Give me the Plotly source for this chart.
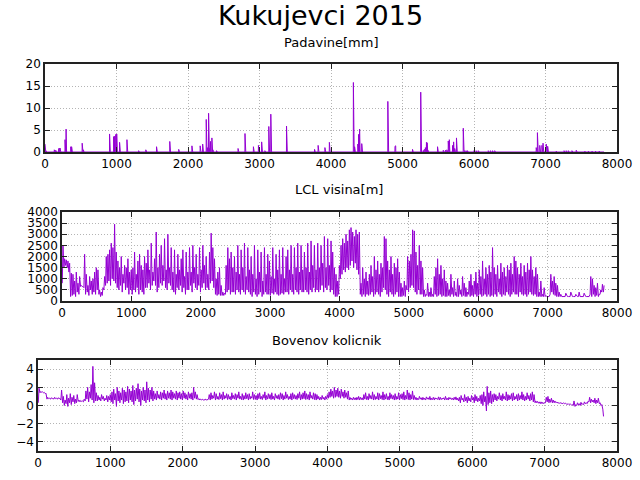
import numpy as np
import plotly.graph_objects as go

# ---------------- data ----------------
N_HOURS = 7820

# precipitation events: hour index and amount [mm]
rain_hour = [0, 2, 5, 12, 130, 140, 150, 190, 200, 210, 280, 295, 300, 360, 372,
             520, 530, 536, 903, 908, 960, 975, 990, 1003, 1006, 1043, 1146, 1310,
             1410, 1560, 1745, 1750, 1870, 2055, 2065, 2170, 2205, 2215, 2255, 2260,
             2270, 2288, 2293, 2300, 2315, 2334, 2340, 2348, 2400, 2700, 2797, 2915,
             2985, 2990, 3030, 3040, 3075, 3130, 3140, 3158, 3162, 3378, 3382, 3770,
             3820, 3915, 3977, 3982, 4313, 4330, 4340, 4375, 4385, 4400, 4430, 4440,
             4795, 4800, 4895, 4905, 5140, 5255, 5290, 5300, 5310, 5320, 5335, 5345,
             5355, 5490, 5500, 5570, 5600, 5620, 5640, 5655, 5660, 5700, 5715, 5730,
             5755, 5765, 5850, 5855, 5870, 5890, 5910, 6000, 6030, 6060, 6200, 6230,
             6260, 6290, 6870, 6887, 6892, 6920, 6950, 6965, 6975, 7010, 7030, 7150,
             7160, 7260, 7290, 7320, 7370, 7430, 7440, 7550, 7600, 7650, 7700, 7750]
rain_mm = [1.8, 0.6, 0.4, 0.3, 0.5, 0.5, 0.4, 0.7, 0.9, 0.9, 2.8, 5.2, 1.0, 1.2, 1.2,
           2.0, 2.0, 0.5, 4.1, 1.5, 3.5, 3.6, 4.0, 4.1, 1.0, 2.2, 2.8, 0.3,
           0.5, 1.2, 2.4, 1.5, 0.6, 1.4, 1.4, 1.4, 1.8, 1.5, 7.4, 4.0,
           1.0, 8.8, 2.5, 0.8, 2.4, 3.2, 1.7, 0.5, 0.3, 0.8, 4.2, 1.2,
           1.5, 0.4, 2.3, 0.5, 0.3, 5.8, 5.8, 8.6, 3.0, 5.9, 5.7, 0.6,
           1.5, 1.0, 2.2, 1.0, 15.8, 1.2, 1.2, 1.8, 4.0, 5.2, 1.9, 1.8,
           11.5, 4.2, 1.3, 1.4, 0.6, 13.6, 0.3, 0.5, 0.6, 1.0, 2.2, 2.1,
           0.4, 1.2, 0.8, 0.4, 0.4, 0.5, 2.5, 2.8, 0.8, 1.5, 2.3, 0.8,
           3.2, 2.5, 5.4, 2.0, 0.3, 0.3, 0.3, 0.3, 0.3, 0.3, 0.3, 0.3,
           0.3, 0.3, 1.0, 4.4, 2.0, 1.5, 1.5, 2.0, 1.8, 1.8, 1.3, 0.2,
           0.2, 0.3, 0.3, 0.3, 0.3, 0.4, 0.3, 0.2, 0.2, 0.2, 0.2, 0.2]

# LCL height [m]: daily maximum (afternoon) and daily minimum (night), one per day
lcl_high = [2500, 1900, 1850, 1800, 1700,
            1250, 1200, 900, 1300, 800, 1100,
            700, 650, 2100,
            1200, 700, 1100, 900, 1000, 1300, 1500, 1400, 500, 400, 600, 1100, 2000,
            2100, 2300, 2600, 2400, 3450, 2200,
            1800, 1500, 2000, 1200, 1600, 1500, 1900, 1300, 1400,
            1500, 2200, 1200, 1800, 2100, 1600, 1400, 2000, 1700,
            2300, 1400, 2600, 1300, 1900, 3100, 1500, 2100,
            2500, 1600, 2800, 1400, 3000, 1500, 2400, 1300,
            2300, 1200, 2100, 1400, 1900, 2300, 1100, 2200, 1300,
            2400, 1300, 2500, 1500, 2100, 1200, 2400, 1400, 2500, 1600, 2000, 1200,
            2200, 3050, 2400, 1900,
            1000, 1300, 1500, 700, 400, 350,
            1600, 2400, 1900, 2200, 1500,
            2000, 1300, 2500, 1200, 2300, 1500, 2600, 1100, 2400, 1400,
            2000, 1200, 2500, 1000, 2300, 1300, 2200, 900, 2400, 1200, 2100,
            1800, 1100, 2400, 1000, 2100, 1400, 2300, 1200, 2400, 1000, 2000,
            2300, 1400, 2500, 1200, 2400, 1500, 2600, 1300, 2500, 1400,
            2200, 1500, 2600, 1300, 2700, 1600, 2500, 1400, 2600, 1500,
            2500, 1700, 2900, 1500, 2800, 1600, 2700, 2200,
            1500, 1200, 900, 1600,
            2500, 2800, 2600, 3000, 2700, 3200,
            3300, 3100, 2900, 3200, 3000, 3100,
            800, 1500, 1000, 1300, 900, 1200,
            1600, 1100, 2000, 1400, 1800, 1200, 1700, 1500,
            2900, 2800,
            1800, 1400, 2000, 1200, 1700, 1500, 1900, 1300,
            800, 600, 900, 700,
            2000, 1800, 2100, 3200, 3150,
            2200, 1600, 2500, 1800, 1500,
            500, 300, 800, 400, 600, 300,
            1100, 1500, 1900, 1200, 1600, 1000, 1400, 900,
            800, 500, 1200, 600, 900, 400, 1000, 700, 500, 1100, 800, 600, 400, 900, 1200, 700,
            900, 1300, 800, 1400, 1100, 1800, 1000, 1500, 1200, 1600, 1300, 2400, 1500,
            1200, 1600, 1000, 1700, 1300, 1500, 1100, 1600, 1400, 1700, 1200,
            2000, 1800,
            1500, 1200, 1700, 1100, 1600, 1300, 1700, 1400,
            2000, 1400, 1100, 1500, 1200,
            400, 900, 300, 600, 250,
            200, 200,
            1200, 900, 1100, 800, 700,
            400, 300, 200,
            200, 350, 200, 200, 400, 200, 200, 300, 200, 400, 200, 200, 350, 200, 200, 200,
            1100, 1000, 700,
            600, 800, 300, 500, 750,
            700]
lcl_low = [800, 1500, 1600, 1500, 1300,
           200, 250, 300, 200, 400, 300,
           650, 650, 600,
           300, 400, 250, 500, 300, 400, 300, 500, 300, 200, 250, 500, 700,
           800, 900, 700, 1000, 900, 800,
           600, 500, 700, 400, 800, 500, 600, 300, 500,
           300, 500, 400, 600, 300, 500, 400, 300, 600,
           600, 800, 500, 700, 900, 700, 400, 600,
           800, 700, 900, 600, 500, 800, 700, 500,
           400, 300, 600, 500, 700, 400, 600, 300, 500,
           500, 700, 400, 800, 600, 500, 700, 400, 600, 800, 500, 600,
           500, 800, 900, 600,
           300, 250, 300, 250, 250, 250,
           300, 400, 500, 300, 400,
           400, 300, 500, 400, 300, 500, 400, 300, 500, 400,
           300, 200, 400, 300, 200, 300, 400, 200, 300, 400, 300,
           300, 250, 350, 300, 400, 300, 250, 300, 350, 300, 400,
           400, 300, 500, 400, 300, 500, 400, 300, 500, 400,
           400, 500, 400, 300, 500, 400, 600, 400, 500, 400,
           500, 700, 400, 600, 500, 700, 400, 500,
           300, 200, 200, 300,
           1000, 1200, 1400, 1300, 1500, 1400,
           1600, 1800, 1500, 1700, 1400, 1200,
           300, 200, 300, 200, 300, 250,
           300, 400, 200, 300, 400, 300, 200, 400,
           600, 500,
           300, 200, 400, 300, 200, 300, 400, 200,
           200, 200, 250, 200,
           500, 400, 600, 700, 600,
           400, 300, 500, 300, 300,
           200, 200, 250, 200, 200, 200,
           200, 300, 200, 250, 300, 200, 250, 200,
           200, 250, 200, 300, 200, 250, 200, 200, 300, 200, 250, 200, 200, 300, 200, 250,
           200, 300, 200, 250, 300, 200, 250, 300, 200, 300, 200, 250, 200,
           300, 200, 400, 300, 200, 300, 250, 400, 300, 200, 300,
           400, 300,
           300, 200, 400, 300, 250, 300, 200, 300,
           400, 300, 250, 300, 200,
           200, 200, 200, 200, 200,
           200, 200,
           300, 400, 300, 250, 200,
           200, 200, 200,
           200, 200, 200, 200, 200, 200, 200, 200, 200, 200, 200, 200, 200, 200, 200, 200,
           300, 200, 300,
           200, 250, 200, 300, 400,
           400]

# Bowen ratio: daytime value and night-time value, one per day
bowen_high = [1.9, 1.55, 1.5, 1.45, 1.35,
              0.9, 0.8, 0.85, 0.8, 0.9, 0.8, 0.85, 0.8,
              1.7,
              1.0, 0.6, 1.2, 0.8, 1.3, 0.9, 1.1, 0.7, 1.2,
              0.6, 0.55, 0.5, 0.7,
              1.6, 2.0, 1.5, 2.3, 4.3, 2.5, 1.4,
              1.1, 0.9, 1.2, 1.0, 0.8, 1.1, 1.0, 1.2,
              1.5, 1.8, 1.3, 2.0, 1.6, 1.4, 1.9, 1.7, 1.5, 2.1, 1.8, 1.6, 2.2, 1.7, 1.9,
              2.4, 1.8, 1.6, 2.0, 1.7, 2.6, 1.9, 1.7, 2.0, 1.6,
              1.3, 1.6, 1.2, 1.5, 1.4, 1.7, 1.3, 1.6, 1.4, 1.7, 1.5, 1.3, 1.6, 1.4, 1.5,
              1.3, 1.6, 1.4, 1.2, 1.5, 1.3, 1.4, 2.0, 1.5, 1.2,
              0.75, 0.7, 0.7, 0.65, 0.7, 0.65,
              1.2, 1.4, 1.1, 1.5, 1.3, 1.0, 1.4, 1.2, 1.5, 1.1,
              1.3, 1.2, 1.0, 1.4, 1.1, 1.3, 1.2, 1.5, 1.0, 1.3,
              1.1, 1.4, 1.2, 1.3, 1.0, 1.5, 1.2, 1.1, 1.3, 1.4,
              1.0, 1.2, 1.5, 1.1, 1.3, 1.2, 1.4, 1.0, 1.3, 1.1,
              1.2, 1.4, 1.3, 1.1, 1.5, 1.2, 1.0, 1.3, 1.4, 1.2,
              1.1, 1.3, 1.5, 1.2, 1.4, 1.6, 1.3, 1.2, 1.5, 1.1,
              1.4, 1.3, 1.2, 1.0, 0.9, 1.1, 0.9, 1.0, 1.2,
              1.5, 1.8, 1.6, 2.0, 1.7, 1.9, 1.6, 1.8, 1.5, 1.7, 1.4, 1.6,
              0.9, 0.8, 0.9, 0.85, 0.9, 1.0, 0.9, 0.85,
              1.2, 1.4, 1.0, 1.3, 1.1, 1.5, 1.2, 1.0, 1.4, 1.3,
              1.1, 1.5, 1.2, 1.3, 1.0, 1.4, 1.2, 1.1, 1.3, 1.0,
              1.4, 1.2, 1.3, 1.5, 1.1, 1.7, 1.4, 1.2, 1.6, 1.1,
              0.9, 0.8, 1.0, 0.85, 0.9, 0.8, 0.95, 0.85, 1.0, 0.8,
              0.9, 0.85, 0.8, 0.95, 0.9, 0.8, 0.85, 1.0, 0.8, 0.9,
              0.85, 0.8, 0.9, 0.95, 0.8,
              0.9, 1.1, 0.8, 1.2, 0.9, 1.0, 0.8, 1.1, 0.9, 1.2, 1.0, 0.8, 1.1,
              1.2, 1.5, 1.0, 2.1, 1.4, 1.6, 1.2, 1.3,
              1.2, 1.0, 1.4, 1.1, 1.3, 1.0, 1.5, 1.2, 1.1, 1.3, 1.4, 1.0, 1.2, 1.3, 1.1,
              1.5, 1.2, 1.0, 1.4, 1.1, 1.3, 1.5, 1.2,
              0.5, 0.45, 0.4, 0.4, 0.35, 0.3,
              0.9, 1.0, 0.7, 0.8, 0.6, 0.5,
              0.35, 0.35, 0.3, 0.3, 0.3, 0.25, 0.2, 0.2, 0.15, 0.1,
              0.5, 0.1, 0.3, 0.2, 0.35, 0.2, 0.4, 0.3, 0.45,
              0.9, 0.7, 0.6, 0.8, 0.6, 0.8,
              0.3, 0.1, -1.2]
bowen_low = [0.3, 1.4, 1.45, 1.4, 1.3,
             0.7, 0.75, 0.7, 0.75, 0.7, 0.75, 0.7, 0.75,
             0.6,
             0.3, 0.0, 0.2, -0.1, 0.3, 0.1, 0.4, 0.2, 0.3,
             0.45, 0.4, 0.45, 0.4,
             0.5, 0.7, 0.4, 0.8, 0.6, 0.3, 0.5,
             0.5, 0.6, 0.5, 0.7, 0.5, 0.6, 0.4, 0.6,
             0.4, 0.2, 0.6, -0.1, 0.5, 0.3, 0.6, 0.2, 0.4, 0.5, 0.3, 0.6, 0.4, 0.1, 0.5,
             0.7, 0.4, 0.0, 0.6, 0.5, 0.3, 0.6, 0.4, 0.7, 0.5,
             0.7, 0.6, 0.8, 0.7, 0.6, 0.8, 0.7, 0.6, 0.8, 0.7, 0.6, 0.8, 0.7, 0.6, 0.8,
             0.7, 0.6, 0.8, 0.7, 0.6, 0.8, 0.7, 0.6, 0.8, 0.7,
             0.65, 0.6, 0.6, 0.6, 0.6, 0.6,
             0.7, 0.6, 0.7, 0.8, 0.6, 0.7, 0.65, 0.75, 0.6, 0.7,
             0.8, 0.65, 0.7, 0.6, 0.75, 0.7, 0.6, 0.8, 0.7, 0.65,
             0.6, 0.7, 0.75, 0.6, 0.7, 0.8, 0.65, 0.7, 0.6, 0.75,
             0.7, 0.65, 0.8, 0.6, 0.7, 0.75, 0.65, 0.7, 0.6, 0.8,
             0.7, 0.65, 0.75, 0.6, 0.7, 0.8, 0.65, 0.7, 0.6, 0.75,
             0.7, 0.65, 0.8, 0.6, 0.7, 0.75, 0.65, 0.7, 0.6, 0.8,
             0.7, 0.65, 0.6, 0.7, 0.6, 0.65, 0.7, 0.6, 0.7,
             0.8, 0.9, 1.0, 0.8, 0.9, 1.0, 0.9, 0.8, 1.0, 0.8, 0.9, 0.7,
             0.6, 0.65, 0.6, 0.65, 0.6, 0.65, 0.6, 0.65,
             0.6, 0.7, 0.65, 0.6, 0.75, 0.7, 0.6, 0.65, 0.7, 0.6,
             0.75, 0.65, 0.6, 0.7, 0.65, 0.6, 0.75, 0.7, 0.6, 0.65,
             0.7, 0.6, 0.75, 0.65, 0.6, 0.7, 0.65, 0.6, 0.7, 0.65,
             0.65, 0.6, 0.65, 0.7, 0.6, 0.65, 0.6, 0.7, 0.65, 0.6,
             0.65, 0.6, 0.7, 0.65, 0.6, 0.65, 0.7, 0.6, 0.65, 0.6,
             0.7, 0.65, 0.6, 0.65, 0.6,
             0.5, 0.3, 0.6, 0.4, 0.5, 0.3, 0.5, 0.4, 0.6, 0.3, 0.5, 0.4, 0.5,
             0.2, 0.0, 0.4, -0.6, 0.1, 0.3, 0.2, 0.4,
             0.6, 0.5, 0.7, 0.6, 0.5, 0.7, 0.6, 0.5, 0.6, 0.7, 0.5, 0.6, 0.7, 0.5, 0.6,
             0.7, 0.6, 0.5, 0.6, 0.7, 0.5, 0.6, 0.4,
             0.3, 0.3, 0.25, 0.2, 0.2, 0.2,
             0.3, 0.4, 0.3, 0.35, 0.3, 0.3,
             0.3, 0.3, 0.25, 0.25, 0.2, 0.2, 0.15, 0.1, 0.1, 0.05,
             0.0, -0.1, 0.0, 0.05, 0.0, 0.1, 0.1, 0.2, 0.2,
             0.4, 0.3, 0.4, 0.3, 0.2, 0.3,
             0.2, 0.0, -0.4]

# ---------------- build series (hour axis) ----------------
rain = np.zeros(N_HOURS)
for h, v in zip(rain_hour, rain_mm):
    rain[h] = v
rain_x = np.arange(N_HOURS)


def day_series(lows, highs):
    xs, ys = [], []
    for d, (lo, hi) in enumerate(zip(lows, highs)):
        xs += [24 * d + 4, 24 * d + 14]
        ys += [lo, hi]
    return xs, ys


lcl_x, lcl_y = day_series(lcl_low, lcl_high)
bow_x, bow_y = day_series(bowen_low, bowen_high)

# ---------------- figure ----------------
COLOR = "#9400D3"
FONT = "DejaVu Sans"
W, H = 640, 480

fig = go.Figure()
fig.add_trace(go.Scatter(x=rain_x, y=rain, mode="lines", line=dict(color=COLOR, width=1),
                         xaxis="x", yaxis="y", showlegend=False))
fig.add_trace(go.Scatter(x=lcl_x, y=lcl_y, mode="lines", line=dict(color=COLOR, width=1),
                         xaxis="x2", yaxis="y2", showlegend=False))
fig.add_trace(go.Scatter(x=bow_x, y=bow_y, mode="lines", line=dict(color=COLOR, width=1),
                         xaxis="x3", yaxis="y3", showlegend=False))


def ax(domain, rng, dtick, anchor):
    return dict(domain=domain, range=rng, dtick=dtick, anchor=anchor,
                showline=True, linecolor="#222222", linewidth=1.5, mirror="ticks",
                ticks="inside", ticklen=5, tickcolor="#222222", tickwidth=1,
                showgrid=True, gridcolor="#b4b4b4", griddash="1px,2px", gridwidth=1,
                zeroline=False, tickfont=dict(family=FONT, size=12, color="#000"),
                automargin=False)


def px_x(a, b):
    return [a / W, b / W]


def px_y(top, bottom):
    return [1 - bottom / H, 1 - top / H]


fig.update_layout(
    width=W, height=H,
    margin=dict(l=0, r=0, t=0, b=0),
    paper_bgcolor="white", plot_bgcolor="white",
    xaxis=ax(px_x(45, 617), [0, 8000], 1000, "y"),
    yaxis=ax(px_y(64, 152), [0, 20], 5, "x"),
    xaxis2=ax(px_x(62, 617), [0, 8000], 1000, "y2"),
    yaxis2=ax(px_y(212, 301), [0, 4000], 500, "x2"),
    xaxis3=ax(px_x(38, 617), [0, 8000], 1000, "y3"),
    yaxis3=ax(px_y(360, 451), [-5, 5], 2, "x3"),
    annotations=[
        dict(text="Kukujevci 2015", x=0.5, y=1 - 15 / H, xref="paper", yref="paper",
             showarrow=False, font=dict(family=FONT, size=27, color="#000"),
             xanchor="center", yanchor="middle"),
        dict(text="Padavine[mm]", x=331 / W, y=1 - 42 / H, xref="paper", yref="paper",
             showarrow=False, font=dict(family=FONT, size=13, color="#000"),
             xanchor="center", yanchor="middle"),
        dict(text="LCL visina[m]", x=339 / W, y=1 - 190 / H, xref="paper", yref="paper",
             showarrow=False, font=dict(family=FONT, size=13, color="#000"),
             xanchor="center", yanchor="middle"),
        dict(text="Bovenov kolicnik", x=327 / W, y=1 - 340 / H, xref="paper", yref="paper",
             showarrow=False, font=dict(family=FONT, size=13, color="#000"),
             xanchor="center", yanchor="middle"),
    ],
)

fig.write_html("out.html", config={"displayModeBar": False},
               post_script="document.body.style.margin='0';document.body.style.padding='0';")
